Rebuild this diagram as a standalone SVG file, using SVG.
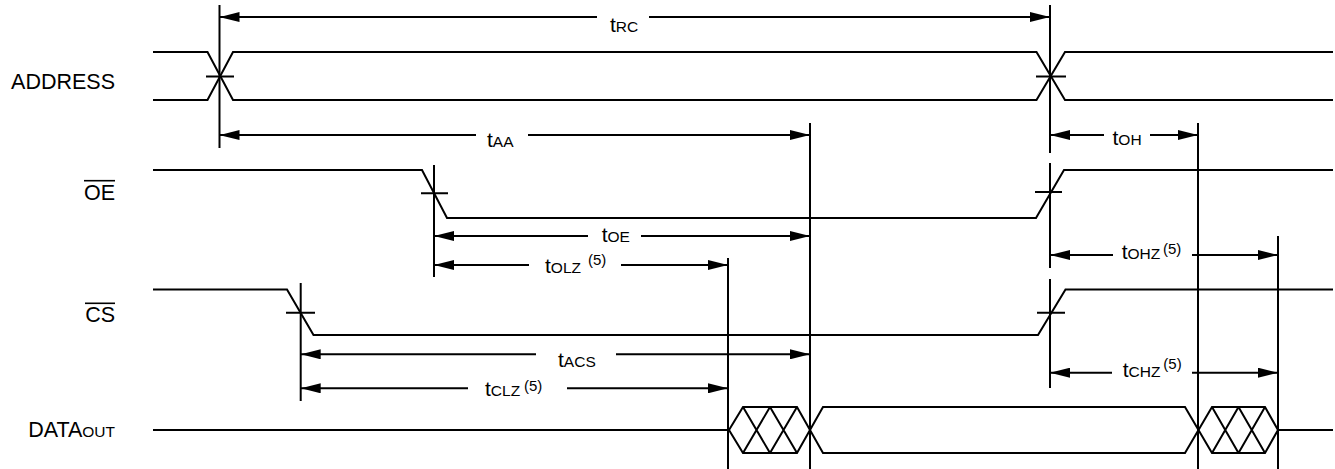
<svg xmlns="http://www.w3.org/2000/svg" width="1335" height="469" viewBox="0 0 1335 469">
<style>
.sig{fill:none;stroke:#000;stroke-width:2;stroke-linejoin:miter}
.tick{fill:none;stroke:#000;stroke-width:2}
.guide{stroke:#000;stroke-width:2}
.dim{stroke:#000;stroke-width:2;marker-end:url(#ah)}
.name{font-family:"Liberation Sans",Arial,sans-serif;font-size:21.5px;fill:#000;text-anchor:end}
.lbl{font-family:"Liberation Sans",Arial,sans-serif;font-size:21px;fill:#000}
.s{font-size:15.5px}
.sup{font-family:"Liberation Sans",Arial,sans-serif;font-size:15px;fill:#000}
.ov{stroke:#000;stroke-width:1.6}
</style>
<defs>
<marker id="ah" markerUnits="userSpaceOnUse" markerWidth="20" markerHeight="10" refX="20" refY="5" orient="auto" viewBox="0 0 20 10">
<path d="M0,0 L20,5 L0,10 z" fill="#000"/>
</marker>
</defs>
<rect width="1335" height="469" fill="#fff"/>

<g id="address">
<text class="name" x="115" y="89.3">ADDRESS</text>
<path class="sig" d="M153,52 H207.5 L233,100 H1036.5 L1065,52 H1333"/>
<path class="sig" d="M153,100 H207.5 L233,52 H1036.5 L1065,100 H1333"/>
<path class="tick" d="M206,76.5 H234 M1036,76.5 H1066"/>
</g>

<g id="oe">
<text class="name" x="115" y="200">OE</text>
<line class="ov" x1="84" y1="180.7" x2="115" y2="180.7"/>
<path class="sig" d="M153,170 H422 L447,218 H1036 L1064,170 H1333"/>
<path class="tick" d="M421,193.3 H448 M1035,192 H1062"/>
</g>

<g id="cs">
<text class="name" x="115" y="322.3">CS</text>
<line class="ov" x1="85" y1="303.3" x2="115" y2="303.3"/>
<path class="sig" d="M153,289.5 H287 L313.5,335 H1038 L1065.5,289.5 H1333"/>
<path class="tick" d="M286,312.7 H315 M1037,312.7 H1065"/>
</g>

<g id="dataout">
<text class="name" x="115" y="437.3">DATA<tspan font-size="15.5">OUT</tspan></text>
<path class="sig" d="M153,430 H729"/>
<path class="sig" d="M729,430 L743,407 H797 L823,453 H1185 L1212,407 H1265 L1278,430"/>
<path class="sig" d="M729,430 L743,453 H797 L823,407 H1185 L1212,453 H1265 L1278,430"/>
<path class="sig" d="M743,407 L770,453 M770,407 L797,453 M743,453 L770,407 M770,453 L797,407"/>
<path class="sig" d="M1212,407 L1238.5,453 M1238.5,407 L1265,453 M1212,453 L1238.5,407 M1238.5,453 L1265,407"/>
<path class="sig" d="M1278,430 H1333"/>
</g>

<g id="connectors">
<g id="guides">
<line class="guide" x1="219.5" y1="5" x2="219.5" y2="148"/>
<line class="guide" x1="1050" y1="5" x2="1050" y2="153"/>
<line class="guide" x1="1050" y1="163" x2="1050" y2="268"/>
<line class="guide" x1="1050" y1="279" x2="1050" y2="388"/>
<line class="guide" x1="434" y1="165" x2="434" y2="277"/>
<line class="guide" x1="300.7" y1="283" x2="300.7" y2="401"/>
<line class="guide" x1="810" y1="123" x2="810" y2="469"/>
<line class="guide" x1="1198" y1="123" x2="1198" y2="469"/>
<line class="guide" x1="728" y1="258" x2="728" y2="469"/>
<line class="guide" x1="1278" y1="236" x2="1278" y2="469"/>
</g>
<g id="dims">
<line class="dim" x1="597" y1="17" x2="219.5" y2="17"/>
<line class="dim" x1="649" y1="17" x2="1050" y2="17"/>
<line class="dim" x1="476" y1="135" x2="219.5" y2="135"/>
<line class="dim" x1="528" y1="135" x2="810" y2="135"/>
<line class="dim" x1="1104" y1="135" x2="1050" y2="135"/>
<line class="dim" x1="1150" y1="135" x2="1198" y2="135"/>
<line class="dim" x1="588" y1="236" x2="434" y2="236"/>
<line class="dim" x1="641" y1="236" x2="810" y2="236"/>
<line class="dim" x1="529" y1="265" x2="434" y2="265"/>
<line class="dim" x1="621" y1="265" x2="728" y2="265"/>
<line class="dim" x1="1113" y1="255" x2="1050" y2="255"/>
<line class="dim" x1="1192" y1="255" x2="1278" y2="255"/>
<line class="dim" x1="536" y1="354.3" x2="300.7" y2="354.3"/>
<line class="dim" x1="616" y1="354.3" x2="810" y2="354.3"/>
<line class="dim" x1="468" y1="388.3" x2="300.7" y2="388.3"/>
<line class="dim" x1="567" y1="388.3" x2="728" y2="388.3"/>
<line class="dim" x1="1112" y1="372.7" x2="1050" y2="372.7"/>
<line class="dim" x1="1192" y1="372.7" x2="1278" y2="372.7"/>
</g>
<g id="dim-labels">
<text class="lbl" x="610" y="31.7">t<tspan class="s">RC</tspan></text>
<text class="lbl" x="487" y="146.7">t<tspan class="s">AA</tspan></text>
<text class="lbl" x="1112.5" y="145">t<tspan class="s">OH</tspan></text>
<text class="lbl" x="601.7" y="242">t<tspan class="s">OE</tspan></text>
<text class="lbl" x="545" y="273.3">t<tspan class="s">OLZ</tspan></text>
<text class="sup" x="588" y="265">(5)</text>
<text class="lbl" x="1121.7" y="259">t<tspan class="s">OHZ</tspan></text>
<text class="sup" x="1163" y="254">(5)</text>
<text class="lbl" x="558" y="366.7">t<tspan class="s">ACS</tspan></text>
<text class="lbl" x="485" y="396">t<tspan class="s">CLZ</tspan></text>
<text class="sup" x="524" y="391">(5)</text>
<text class="lbl" x="1122.7" y="376.5">t<tspan class="s">CHZ</tspan></text>
<text class="sup" x="1163.3" y="368.5">(5)</text>
</g>
</g>
</svg>
